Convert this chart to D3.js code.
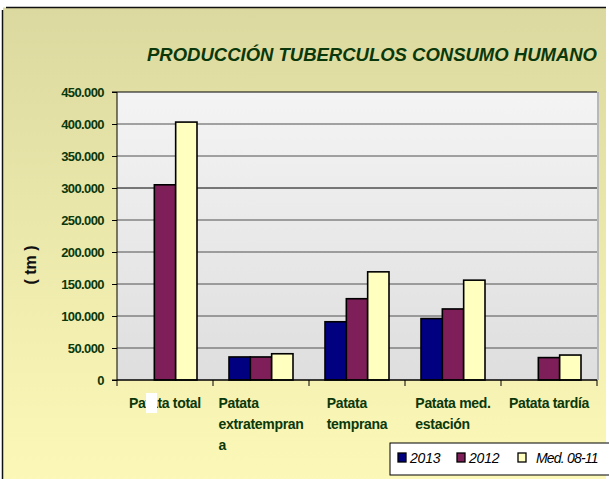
<!DOCTYPE html>
<html>
<head>
<meta charset="utf-8">
<script src="https://cdn.jsdelivr.net/npm/d3@7"></script>
<style>
  html, body { margin: 0; padding: 0; background: #fff; }
  svg { display: block; font-family: "Liberation Sans", Arial, sans-serif; }
</style>
</head>
<body>
<script>
// Données (tm)
const categories = ["Patata total", "Patata extratemprana", "Patata temprana", "Patata med. estación", "Patata tardía"];
const etiquettes = [["Patata total"], ["Patata", "extratempran", "a"], ["Patata", "temprana"], ["Patata med.", "estación"], ["Patata tardía"]];
const series = ["2013", "2012", "Med. 08-11"];
const valeurs2013 = [0, 36000, 91000, 96000, 0];
const valeurs2012 = [305000, 36000, 127000, 111000, 35000];
const valeursMed = [403000, 41000, 169000, 156000, 39000];
const graduations = [0, 50000, 100000, 150000, 200000, 250000, 300000, 350000, 400000, 450000];

const couleurs = ["#000080", "#7f1f5a", "#ffffc0"];
const vert = "#0a380a";

const largeur = 609, hauteur = 479;
const zone = { left: 117, right: 597, top: 92, bottom: 380 };

const svg = d3.select("body").append("svg")
    .attr("width", largeur)
    .attr("height", hauteur);

const defs = svg.append("defs");
const fond = defs.append("linearGradient").attr("id", "fond")
    .attr("x1", 0).attr("y1", 0).attr("x2", 0).attr("y2", 1);
fond.append("stop").attr("offset", "0%").attr("stop-color", "#dcd9a0");
fond.append("stop").attr("offset", "100%").attr("stop-color", "#fcf9b8");
const fondZone = defs.append("linearGradient").attr("id", "fondZone")
    .attr("x1", 0).attr("y1", 0).attr("x2", 0).attr("y2", 1);
fondZone.append("stop").attr("offset", "0%").attr("stop-color", "#f4f4f4");
fondZone.append("stop").attr("offset", "100%").attr("stop-color", "#dedede");

// Cadre du graphique
svg.append("rect")
    .attr("x", 3).attr("y", 7.5)
    .attr("width", 603).attr("height", hauteur)
    .attr("fill", "url(#fond)");
svg.append("line")
    .attr("x1", 6).attr("x2", 606).attr("y1", 7.5).attr("y2", 7.5)
    .attr("stroke", "#111").attr("stroke-width", 1.5);
svg.append("line")
    .attr("x1", 2.5).attr("x2", 2.5).attr("y1", 10).attr("y2", hauteur)
    .attr("stroke", "#111").attr("stroke-width", 1.5);

// Titre
svg.append("text")
    .attr("x", 147).attr("y", 61)
    .attr("textLength", 450)
    .attr("lengthAdjust", "spacingAndGlyphs")
    .attr("font-size", 19)
    .attr("font-weight", "bold")
    .attr("font-style", "italic")
    .attr("fill", vert)
    .text("PRODUCCIÓN TUBERCULOS CONSUMO HUMANO");

// Echelles
const echelleX = d3.scaleBand()
    .domain(categories)
    .range([zone.left, zone.right]);

const echelleSerie = d3.scaleBand()
    .domain(series)
    .range([0, echelleX.bandwidth()])
    .paddingOuter(0.75)
    .paddingInner(0);

const echelleY = d3.scaleLinear()
    .domain([0, 450000])
    .range([zone.bottom, zone.top]);

const locale = d3.formatLocale({ decimal: ",", thousands: ".", grouping: [3], currency: ["", "€"] });
const fmt = locale.format(",d");

// Zone de traçage
svg.append("rect")
    .attr("x", zone.left).attr("y", zone.top)
    .attr("width", zone.right - zone.left).attr("height", zone.bottom - zone.top)
    .attr("fill", "url(#fondZone)");
svg.append("line")
    .attr("x1", zone.right + 1).attr("x2", zone.right + 1)
    .attr("y1", zone.top).attr("y2", zone.bottom)
    .attr("stroke", "#b8b8b8").attr("stroke-width", 2);

// Quadrillage
svg.append("g")
    .selectAll("line")
    .data(graduations.slice(1))
    .join("line")
    .attr("x1", zone.left).attr("x2", zone.right)
    .attr("y1", d => echelleY(d)).attr("y2", d => echelleY(d))
    .attr("stroke", d => d === 450000 || d === 300000 ? "#000" : "#505050")
    .attr("stroke-width", 1);

// Axe Y
const axeY = d3.axisLeft(echelleY)
    .tickValues(graduations)
    .tickFormat(fmt)
    .tickSize(5)
    .tickPadding(8);

const gY = svg.append("g")
    .attr("transform", "translate(" + zone.left + ",0)")
    .call(axeY);
gY.select(".domain").attr("stroke", "#000").attr("d", "M-5," + zone.top + "H0V" + zone.bottom + "H-5");
gY.selectAll(".tick line").attr("stroke", "#000");
gY.selectAll("text")
    .attr("font-size", 13)
    .attr("font-weight", "bold")
    .attr("letter-spacing", -0.6)
    .attr("fill", vert)
    .attr("font-family", "Liberation Sans, Arial, sans-serif");

// Titre de l'axe Y
svg.append("text")
    .attr("transform", "translate(36,265) rotate(-90)")
    .attr("text-anchor", "middle")
    .attr("font-size", 16)
    .attr("font-weight", "bold")
    .attr("fill", "#111")
    .text("( tm )");

// Barres
const donnees = [];
categories.forEach(function(c, i) {
    [valeurs2013[i], valeurs2012[i], valeursMed[i]].forEach(function(v, j) {
        if (v > 0) donnees.push({ cat: c, serie: series[j], valeur: v, idx: j });
    });
});

svg.append("g")
    .selectAll("rect")
    .data(donnees)
    .join("rect")
    .attr("x", d => echelleX(d.cat) + echelleSerie(d.serie))
    .attr("y", d => echelleY(d.valeur))
    .attr("width", echelleSerie.bandwidth())
    .attr("height", d => zone.bottom - echelleY(d.valeur))
    .attr("fill", d => couleurs[d.idx])
    .attr("stroke", "#000")
    .attr("stroke-width", 1.6);

// Axe X
const gX = svg.append("g");
gX.append("line")
    .attr("x1", zone.left).attr("x2", zone.right)
    .attr("y1", zone.bottom).attr("y2", zone.bottom)
    .attr("stroke", "#000").attr("stroke-width", 1.5);
gX.selectAll(".tickX")
    .data(categories.concat(["fin"]))
    .join("line")
    .attr("class", "tickX")
    .attr("x1", (d, i) => i < categories.length ? echelleX(d) : zone.right)
    .attr("x2", (d, i) => i < categories.length ? echelleX(d) : zone.right)
    .attr("y1", zone.bottom).attr("y2", zone.bottom + 6)
    .attr("stroke", "#000");

// Etiquettes des catégories, lignes alignées à gauche dans un bloc centré
const etiq = svg.append("g")
    .attr("font-size", 14)
    .attr("font-weight", "bold")
    .attr("letter-spacing", -0.3)
    .attr("fill", vert);

categories.forEach(function(c, i) {
    const g = etiq.append("g");
    const t = g.selectAll("text")
        .data(etiquettes[i])
        .join("text")
        .attr("y", (d, k) => 408 + k * 21)
        .text(d => d);
    let maxW = 0;
    t.each(function() { maxW = Math.max(maxW, this.getComputedTextLength()); });
    t.attr("x", echelleX(c) + echelleX.bandwidth() / 2 - maxW / 2);
});

// Petit rectangle blanc sur "Patata total"
svg.append("rect")
    .attr("x", 146).attr("y", 393)
    .attr("width", 11).attr("height", 20)
    .attr("fill", "#fff");

// Légende
const legende = svg.append("g").attr("transform", "translate(390,443)");
legende.append("rect")
    .attr("x", 0).attr("y", 0)
    .attr("width", 230).attr("height", 32)
    .attr("fill", "#fff")
    .attr("stroke", "#000");

const posLegende = [8, 67, 128];
const items = legende.selectAll(".item")
    .data(series)
    .join("g")
    .attr("class", "item")
    .attr("transform", (d, i) => "translate(" + posLegende[i] + ",10)");
items.append("rect")
    .attr("width", 8).attr("height", 9)
    .attr("fill", (d, i) => couleurs[i])
    .attr("stroke", "#000")
    .attr("stroke-width", 1.3);
items.append("text")
    .attr("x", (d, i) => i === 2 ? 18 : 12)
    .attr("y", 10)
    .attr("font-size", 14)
    .attr("font-style", "italic")
    .attr("letter-spacing", (d, i) => i === 2 ? -0.8 : -0.2)
    .attr("fill", "#000")
    .text(d => d);
</script>
</body>
</html>
